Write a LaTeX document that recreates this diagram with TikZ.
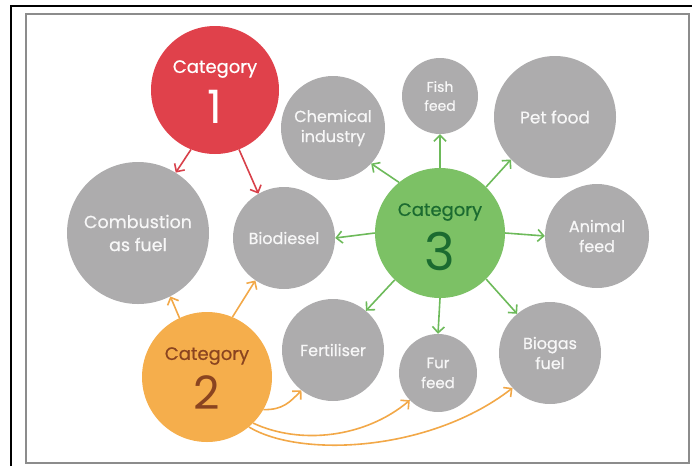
\documentclass[tikz,border=0pt]{standalone}
\usepackage{fontspec}
\setmainfont{Poppins}
\newfontfamily\labelfont[FakeBold=0.6]{Poppins}
\usetikzlibrary{arrows.meta}
\definecolor{cgray}{HTML}{ADACAD}
\definecolor{cred}{HTML}{E0414B}
\definecolor{corange}{HTML}{F5AE4C}
\definecolor{cgreen}{HTML}{7CC165}
\definecolor{agreen}{HTML}{6DBA5A}
\definecolor{ared}{HTML}{D8404A}
\definecolor{aorange}{HTML}{F2A848}
\definecolor{tbrown}{HTML}{8A4420}
\definecolor{tgreen}{HTML}{1B6B30}
\definecolor{ltext}{HTML}{F7F7F7}
\tikzset{
  bubble/.style={circle,fill=cgray,draw=none,inner sep=0pt,minimum size=#1,text=ltext,align=center,font=\labelfont\fontsize{16}{20}\selectfont},
  smallbubble/.style={bubble=#1,font=\labelfont\fontsize{14}{19}\selectfont},
  catcircle/.style={circle,draw=none,inner sep=0pt,minimum size=#1},
  cattext/.style={font=\labelfont\fontsize{18}{20}\selectfont,inner sep=0pt},
  catnum/.style={font=\fontsize{46}{46}\selectfont,inner sep=0pt},
  arr/.style={line width=1.6pt,-{Straight Barb[length=6pt,width=12pt,line width=1.6pt]}},
  redarr/.style={arr,draw=ared},
  greenarr/.style={arr,draw=agreen},
  orangearr/.style={arr,draw=aorange}
}
\begin{document}
\begin{tikzpicture}[x=1pt,y=-1pt]
\useasboundingbox (0,0) rectangle (692,466);
% frames
\draw[line width=1.8pt,black] (11,466) -- (11,6) -- (692,6);
\draw[line width=1.5pt,gray!90] (26,14) rectangle (689,463);
% gray bubbles
\node[bubble=142pt,font=\labelfont\fontsize{17.5}{23}\selectfont] (comb) at (138,233) {Combustion\\as fuel};
\node[bubble=102pt] (bio) at (284,238) {Biodiesel};
\node[bubble=104pt] (chem) at (333,128) {Chemical\\industry};
\node[smallbubble=76pt] (fish) at (440,96) {Fish\\feed};
\node[bubble=122pt,font=\labelfont\fontsize{17}{20}\selectfont] (pet) at (555,117) {Pet food};
\node[bubble=104pt] (animal) at (597,236) {Animal\\feed};
\node[bubble=102pt] (fert) at (333,350) {Fertiliser};
\node[smallbubble=78pt,font=\labelfont\fontsize{15}{20}\selectfont] (fur) at (438,373) {Fur\\feed};
\node[bubble=102pt] (biog) at (550,353) {Biogas\\fuel};
% category circles
\node[catcircle=128pt,fill=cred] (c1) at (215,90) {};
\node[cattext,text=white] (c1t) at (215,69) {Category};
\node[catnum,text=white] (c1n) at (215,107) {1};
\node[catcircle=130pt,fill=cgreen] (c3) at (440,233) {};
\node[cattext,text=tgreen] (c3t) at (440,212) {Category};
\node[catnum,text=tgreen,font=\fontsize{52}{52}\selectfont] (c3n) at (440,251) {3};
\node[catcircle=130pt,fill=corange] (c2) at (207,377) {};
\node[cattext,text=tbrown] (c2t) at (207,356) {Category};
\node[catnum,text=tbrown] (c2n) at (207,393) {2};
% red arrows
\draw[redarr] (c1.-112) -- (comb.58);
\draw[redarr] (c1.-68) -- (bio.120);
% green arrows
\draw[greenarr] (c3.90) -- (fish.-90);
\draw[greenarr] (c3.129) -- (chem.-43);
\draw[greenarr] (c3.45) -- (pet.-136);
\draw[greenarr] (c3.180) -- (bio.0);
\draw[greenarr] (c3.0) -- (animal.180);
\draw[greenarr] (c3.-134) -- (fert.50);
\draw[greenarr] (c3.-90) -- (fur.90);
\draw[greenarr] (c3.-45) -- (biog.130);
% orange arrows
\draw[orangearr] (c2.115) -- (comb.-63);
\draw[orangearr] (c2.67) -- (bio.-124);
\draw[orangearr] (c2.-30) .. controls (283,410) and (290,402) .. (fert.232);
\draw[orangearr] (c2.-45) .. controls (300,445) and (365,438) .. (fur.224);
\draw[orangearr] (c2.-50) .. controls (300,458) and (430,452) .. (biog.223);
\end{tikzpicture}
\end{document}
